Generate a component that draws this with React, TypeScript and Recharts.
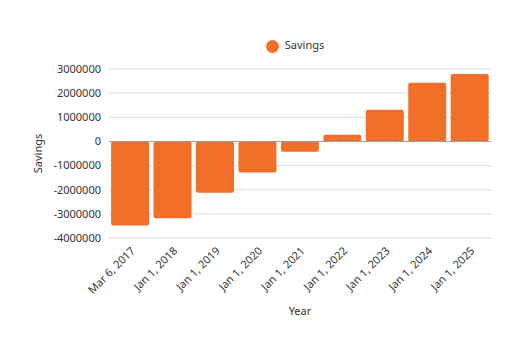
import React from 'react';
import { BarChart, Bar, XAxis, YAxis, CartesianGrid, Legend, ReferenceLine } from 'recharts';

const categories = ['Mar 6, 2017', 'Jan 1, 2018', 'Jan 1, 2019', 'Jan 1, 2020', 'Jan 1, 2021', 'Jan 1, 2022', 'Jan 1, 2023', 'Jan 1, 2024', 'Jan 1, 2025'];
const savings = [-3480000, -3180000, -2130000, -1290000, -430000, 280000, 1310000, 2430000, 2790000];
const yTicks = [-4000000, -3000000, -2000000, -1000000, 0, 1000000, 2000000, 3000000];

const data = categories.map((c, i) => ({ date: c, Savings: savings[i] }));

const FONT = '"Noto Sans", sans-serif';
const COLOR = '#F26F2A';

export default function App() {
  return (
    <div style={{ width: 526, height: 350, margin: -8, fontFamily: FONT }}>
      <BarChart width={526} height={350} data={data} margin={{ top: 69, right: 35, left: 38, bottom: 30 }} barCategoryGap="5%">
        <CartesianGrid vertical={false} stroke="#dddddd" />
        <XAxis
          dataKey="date"
          interval={0}
          angle={-45}
          textAnchor="end"
          height={82}
          tickLine={false}
          axisLine={false}
          tick={{ fontSize: 11, fill: '#333', fontFamily: FONT }}
          label={{ value: 'Year', position: 'insideBottom', offset: 5, fontSize: 11, fill: '#333', fontFamily: FONT }}
        />
        <YAxis
          domain={[-4000000, 3000000]}
          ticks={yTicks}
          interval={0}
          width={71}
          tickLine={false}
          axisLine={false}
          tick={{ fontSize: 11, fill: '#333', fontFamily: FONT }}
          label={{ value: 'Savings', angle: -90, position: 'insideLeft', offset: 0, fontSize: 11, fill: '#333', fontFamily: FONT, style: { textAnchor: 'middle' } }}
        />
        <ReferenceLine y={0} stroke="#999" />
        <Legend
          verticalAlign="middle"
          iconType="circle"
          iconSize={13}
          wrapperStyle={{ top: 37, left: 109, width: 382, fontSize: 11, fontFamily: FONT }}
          formatter={(v: string) => <span style={{ color: '#333', marginLeft: 2 }}>{v}</span>}
        />
        <Bar dataKey="Savings" fill={COLOR} radius={2} isAnimationActive={false} />
      </BarChart>
    </div>
  );
}
